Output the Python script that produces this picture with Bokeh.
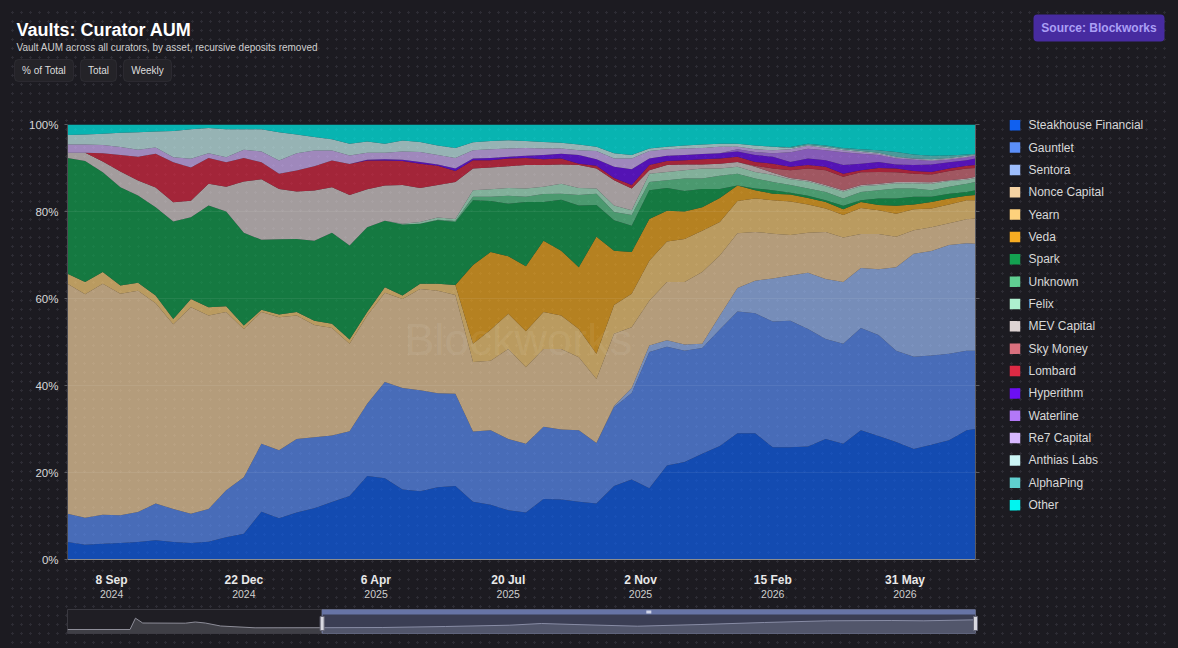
import pandas as pd
from bokeh.plotting import figure
from bokeh.models import (Range1d, FixedTicker, LinearAxis, Label, Grid,
                          ColumnDataSource, BoxAnnotation)
from bokeh.layouts import column, row
from bokeh.embed import file_html
from bokeh.resources import INLINE
from bokeh.core.properties import value

BG = "#1c1b21"
FONT = "Liberation Sans"

# ---------------- data ----------------
dates = list(pd.date_range("2024-08-04", periods=52, freq="14D")) + [pd.Timestamp("2026-07-26")]

curators = ["Steakhouse Financial", "Gauntlet", "Sentora", "Nonce Capital", "Yearn", "Veda",
            "Spark", "Unknown", "Felix", "MEV Capital", "Sky Money", "Lombard", "Hyperithm",
            "Waterline", "Re7 Capital", "Anthias Labs", "AlphaPing", "Other"]
colors = ["#1060f0", "#5b8ff9", "#9dbdfb", "#f5d3a3", "#fdd17c", "#f7ac22", "#13a150", "#60ce91",
          "#aef0cf", "#ddd3d3", "#d9707e", "#dd2a44", "#6c0ff4", "#b278f7", "#d7b7ff", "#cbf4f4",
          "#5fcfcf", "#00f5f0"]

steakhouse = [4.0, 3.4, 3.6, 3.8, 4.0, 4.4, 4.0, 3.8, 4.1, 5.1, 5.9, 11.0, 9.5, 10.8, 11.8, 13.2, 14.6, 19.2,
              18.7, 16.1, 15.7, 16.6, 16.9, 13.3, 12.6, 11.3, 10.8, 13.9, 13.8, 13.3, 12.9, 16.9, 18.4, 16.4,
              21.6, 22.4, 24.3, 26.1, 29.0, 29.0, 25.8, 25.8, 26.0, 27.7, 26.6, 29.7, 28.4, 27.0, 25.4, 26.4,
              27.4, 29.7, 30.0]
gauntlet = [6.5, 6.2, 6.7, 6.4, 6.9, 8.5, 7.6, 6.7, 7.5, 10.8, 13.0, 15.6, 15.6, 16.9, 16.3, 15.3, 14.9, 16.6,
            22.1, 23.3, 23.2, 21.6, 21.2, 16.1, 17.1, 16.4, 15.8, 16.6, 16.1, 16.4, 13.9, 18.1, 19.9, 31.3,
            27.3, 25.6, 24.3, 26.8, 28.0, 27.6, 28.9, 29.1, 27.0, 23.0, 23.0, 23.5, 23.2, 21.0, 21.2, 20.5,
            19.9, 18.3, 18.0]
sentora = [0] * 31 + [0.3, 1.1, 1.5, 1.5, 1.4, 1.0, 3.2, 5.4, 7.5, 9.9, 10.4, 12.9, 13.8, 14.2, 13.8, 15.1,
                      19.2, 23.7, 24.0, 25.0, 24.7, 24.6]
nonce = [52.9, 51.4, 53.1, 50.9, 50.9, 46.0, 42.5, 47.5, 44.5, 41.0, 34.1, 30.3, 30.6, 28.4, 25.8, 24.7, 20.1,
         20.3, 20.5, 20.5, 23.3, 23.6, 22.7, 16.0, 16.0, 20.7, 17.6, 17.9, 18.5, 16.8, 14.7, 16.6, 14.0, 10.3,
         13.4, 14.4, 16.5, 13.8, 12.6, 11.2, 10.3, 9.3, 9.2, 10.8, 10.2, 7.8, 8.1, 7.0, 5.4, 5.5, 5.0, 5.5, 5.8]
yearn = [2.3, 2.8, 2.7, 1.9, 1.8, 1.8, 1.2, 1.9, 1.9, 1.3, 0.8, 0.5, 0.6, 0.8, 1.0, 1.0, 1.0, 0.8, 1.3, 0.8,
         1.2, 1.6, 2.3, 4.2, 7.1, 8.1, 8.3, 8.5, 7.7, 6.5, 5.8, 6.6, 7.7, 9.2, 9.3, 9.9, 9.5, 7.7, 7.4, 7.7,
         7.7, 7.7, 6.5, 5.4, 5.2, 6.0, 5.5, 5.3, 4.8, 4.3, 4.3, 4.4, 4.2]
veda = [0] * 23 + [18.1, 17.9, 13.2, 14.9, 16.4, 14.9, 14.2, 26.9, 12.5, 9.6, 9.6, 7.1, 6.3, 5.4, 5.5, 3.6,
                   1.9, 1.5, 1.6, 1.5, 1.5, 1.3, 1.4, 1.2, 1.8, 1.1, 1.5, 1.4, 1.0, 1.2]
spark = [26.6, 27.8, 22.9, 22.6, 20.1, 20.3, 22.4, 18.8, 23.4, 21.8, 21.3, 16.1, 17.3, 16.8, 18.4, 20.9, 21.6,
         19.5, 15.3, 16.3, 13.8, 14.6, 14.5, 14.9, 11.7, 12.1, 14.8, 8.9, 11.7, 14.2, 7.3, 7.0, 6.0, 6.6, 5.2,
         4.7, 4.2, 2.1, 0.0, 0.4, 0.8, 0.4, 0.5, 0.4, 0.8, 0.4, 1.5, 1.7, 1.8, 1.2, 1.1, 0.9, 1.1]
unknown = [0] * 21 + [0.1, 0.2, 0.8, 1.0, 1.8, 1.2, 1.8, 1.4, 2.4, 2.6, 1.9, 2.5, 1.9, 1.8, 2.9, 2.4, 3.0, 2.7,
                      2.3, 1.9, 1.8, 1.7, 1.9, 1.7, 1.9, 1.9, 2.3, 1.9, 1.5, 1.6, 1.9, 1.9]
felix = [0] * 19 + [0.2, 0.4, 0.5, 0.5, 1.5, 1.7, 1.8, 1.9, 1.7, 2.3, 1.6, 1.2, 1.5, 1.1, 1.9, 1.9, 1.9, 2.3,
                    1.7, 1.6, 1.5, 1.6, 1.3, 1.6, 1.3, 1.6, 1.3, 1.2, 1.2, 1.2, 1.5, 1.3, 0.9, 0.9]
mev_capital = [1.2, 1.9, 2.5, 3.6, 3.4, 4.5, 4.4, 3.8, 5.0, 5.7, 11.8, 13.9, 11.6, 10.9, 11.5, 10.5, 11.6, 8.7,
               8.1, 8.9, 7.8, 7.5, 8.5, 5.0, 5.0, 5.0, 5.4, 5.0, 4.4, 5.3, 4.6, 5.8, 5.0, 0.8, 1.6, 1.3, 0.9,
               1.1, 1.1, 1.2, 0.5, 0.3, 0.3, 0.3, 0.3, 0.3, 0.3, 0.3, 0.3, 0.3, 0.2, 0.3, 0.3]
sky_money = [0] * 39 + [0.2, 1.0, 1.8, 2.7, 3.4, 3.1, 2.9, 2.7, 2.2, 1.9, 1.8, 2.1, 2.3, 2.0]
lombard = [0.0, 0.0, 1.9, 3.8, 5.5, 7.8, 9.2, 7.6, 5.9, 5.6, 5.4, 3.9, 3.5, 4.8, 5.6, 6.1, 7.1, 6.6, 5.7, 5.5,
           5.6, 4.4, 2.5, 1.9, 1.7, 1.8, 1.6, 1.3, 1.4, 0.3, 0.6, 0.5, 0.8, 1.2, 0.9, 1.0, 1.2, 1.2, 1.2, 0.9,
           1.1, 0.8, 0.8, 0.8, 0.7, 0.5, 0.9, 0.9, 0.6, 0.6, 0.6, 0.6, 0.7]
hyperithm = [0] * 17 + [0.2, 0.3, 0.3, 0.4, 0.3, 0.6, 0.4, 0.5, 0.4, 0.5, 1.0, 1.1, 2.0, 1.5, 2.6, 3.6, 1.5,
                        1.2, 1.2, 1.2, 1.2, 1.2, 1.6, 1.6, 1.1, 1.5, 1.5, 2.0, 1.5, 1.4, 0.9, 1.4, 1.7, 1.4,
                        1.3, 1.5]
waterline = [0] * 38 + [0.5, 0.7, 0.8, 2.2, 2.2, 2.3, 2.9, 2.3, 1.6, 1.4, 1.2, 0.8, 0.6, 0.6, 0.6]
re7_capital = [1.9, 1.9, 1.9, 1.8, 1.6, 1.4, 1.2, 2.0, 1.1, 1.2, 1.9, 2.5, 3.0, 4.0, 3.6, 2.3, 2.0, 1.6, 1.5,
               1.9, 2.3, 2.2, 2.4, 1.9, 2.0, 1.9, 1.8, 1.5, 1.2, 1.1, 1.9, 1.9, 2.5, 1.7, 1.5, 1.5, 1.4, 1.5,
               0.6, 0.6, 0.7, 0.7, 0.7, 0.5, 0.5, 0.4, 0.3, 0.2, 0.2, 0.2, 0.2, 0.2, 0.2]
anthias_labs = [2.2, 2.3, 2.6, 3.3, 4.0, 3.7, 6.0, 6.8, 5.8, 6.4, 4.7, 5.1, 6.5, 4.3, 3.1, 2.6, 2.7, 2.6, 2.1,
                2.5, 2.3, 2.2, 2.3, 1.8, 1.9, 1.9, 1.6, 1.5, 1.3, 1.3, 1.0, 1.2, 0.8, 0.6, 0.6, 0.7, 0.8, 0.7,
                0.7, 0.9, 0.8, 0.3, 0.2, 0.3, 0.2, 0.2, 0.2, 0.2, 0.1, 0.2, 0.2, 0.2, 0.1]
alphaping = [0] * 41 + [0.2, 0.3, 0.3, 0.3, 0.4, 0.6, 1.1, 0.9, 0.8, 0.6, 0.3, 0.2]
other = [2.4, 2.3, 2.1, 1.9, 1.8, 1.6, 1.5, 1.1, 0.8, 1.1, 1.1, 1.1, 1.8, 2.3, 2.9, 3.4, 4.4, 3.9, 4.4, 3.7,
         4.0, 4.8, 5.4, 4.1, 3.8, 3.6, 3.8, 4.0, 4.2, 4.6, 5.1, 6.6, 7.0, 5.5, 5.1, 4.8, 4.6, 4.4, 4.4, 4.8,
         5.1, 5.2, 4.4, 4.8, 5.4, 5.7, 5.9, 6.3, 6.9, 7.2, 7.1, 6.9, 6.7]

series = [steakhouse, gauntlet, sentora, nonce, yearn, veda, spark, unknown, felix, mev_capital,
          sky_money, lombard, hyperithm, waterline, re7_capital, anthias_labs, alphaping, other]

tick_dates = ["2024-09-08", "2024-12-22", "2025-04-06", "2025-07-20", "2025-11-02", "2026-02-15", "2026-05-31"]
tick_days = ["8 Sep", "22 Dec", "6 Apr", "20 Jul", "2 Nov", "15 Feb", "31 May"]
tick_years = ["2024", "2024", "2025", "2025", "2025", "2026", "2026"]
y_ticks = [0, 20, 40, 60, 80, 100]
y_tick_labels = ["0%", "20%", "40%", "60%", "80%", "100%"]

# navigator (total AUM, arbitrary units)
nav_dates = ["2023-10-28", "2024-01-05", "2024-01-11", "2024-01-19", "2024-03-06", "2024-03-17",
             "2024-03-28", "2024-04-14", "2024-05-22", "2024-08-04", "2024-10-10", "2024-12-18",
             "2025-02-27", "2025-04-03", "2025-05-09", "2025-07-18", "2025-09-26", "2025-12-05",
             "2026-02-13", "2026-04-24", "2026-05-30", "2026-07-26"]
nav_total_aum = [4, 4, 15.3, 10.5, 10.3, 11.5, 10.5, 7.5, 5.7, 5.8, 6, 7, 8.3, 10, 9, 7.3, 9, 11, 12.7, 13,
                 12.7, 13.7]


def ms(d):
    return float(pd.Timestamp(d).value // 10**6)


box_kw = {"border_radius": 4} if "border_radius" in BoxAnnotation.properties() else {}

# ---------------- header ----------------
hdr = figure(width=1162, height=92, x_range=Range1d(0, 1162), y_range=Range1d(92, 0),
             toolbar_location=None, output_backend="svg", min_border=0,
             x_axis_type=None, y_axis_type=None, outline_line_color=None,
             background_fill_alpha=0, border_fill_alpha=0)
hdr.grid.visible = False
hdr.text(x=[8], y=[21], text=["Vaults: Curator AUM"], text_font=value(FONT), text_font_style="bold",
         text_font_size="18px", text_color="#ffffff", text_baseline="alphabetic")
hdr.text(x=[8], y=[38.5], text=["Vault AUM across all curators, by asset, recursive deposits removed"],
         text_font=value(FONT), text_font_size="10px", text_color="#cfcfcf", text_baseline="alphabetic")
for (l, r, lab) in [(6, 65, "% of Total"), (72, 108, "Total"), (115, 163, "Weekly")]:
    hdr.add_layout(BoxAnnotation(left=l, right=r, top=51, bottom=73, fill_color="#242328", fill_alpha=1,
                                 line_color="#46454c", line_width=1, level="underlay", **box_kw))
    hdr.text(x=[(l + r) / 2], y=[62], text=[lab], text_font=value(FONT), text_font_size="10px",
             text_color="#dddddd", text_align="center", text_baseline="middle")
hdr.add_layout(BoxAnnotation(left=1025, right=1156, top=6, bottom=33, fill_color="#472ba0", fill_alpha=1,
                             line_color=None, level="underlay", **box_kw))
hdr.text(x=[1090.5], y=[19.5], text=["Source: Blockworks"], text_font=value(FONT), text_font_style="bold",
         text_font_size="12px", text_color="#ab9ff5", text_align="center", text_baseline="middle")

# ---------------- main chart ----------------
x0, x1 = ms(dates[0]), ms(dates[-1])
p = figure(width=977, height=505, x_range=Range1d(x0, x1), y_range=Range1d(0, 100),
           x_axis_type=None, y_axis_type=None, toolbar_location=None, output_backend="svg",
           min_border_left=59, min_border_right=10, min_border_top=24, min_border_bottom=46,
           background_fill_alpha=0, border_fill_alpha=0, outline_line_color=None)

keys = ["s%d" % i for i in range(len(series))]
data = {"date": [ms(d) for d in dates]}
for k, s in zip(keys, series):
    data[k] = s
src = ColumnDataSource(data)
p.varea_stack(stackers=keys, x="date", color=colors, fill_alpha=0.7, source=src)

p.add_layout(Grid(dimension=1, ticker=FixedTicker(ticks=[20, 40, 60, 80]), grid_line_color="#ffffff",
                  grid_line_alpha=0.07, level="overlay"))

tick_ms = [ms(d) for d in tick_dates]
ax1 = LinearAxis(ticker=FixedTicker(ticks=tick_ms), major_label_overrides=dict(zip(tick_ms, tick_days)),
                 major_tick_out=0, major_tick_in=0, minor_tick_out=0, minor_tick_in=0,
                 axis_line_color="#8c8c8c", axis_line_width=1.2,
                 major_label_text_color="#e8e8e8", major_label_text_font=FONT,
                 major_label_text_font_style="bold", major_label_text_font_size="12px",
                 major_label_standoff=13)
p.add_layout(ax1, "below")
ax2 = LinearAxis(ticker=FixedTicker(ticks=tick_ms), major_label_overrides=dict(zip(tick_ms, tick_years)),
                 major_tick_out=0, major_tick_in=0, minor_tick_out=0, minor_tick_in=0,
                 axis_line_color=None, major_label_text_color="#cfcfcf", major_label_text_font=FONT,
                 major_label_text_font_size="10.5px", major_label_standoff=0)
p.add_layout(ax2, "below")

ay = LinearAxis(ticker=FixedTicker(ticks=y_ticks), major_label_overrides=dict(zip(y_ticks, y_tick_labels)),
                major_tick_out=3, major_tick_in=0, minor_tick_out=0, minor_tick_in=0,
                major_tick_line_color="#5a5a60", axis_line_color="#4a4a50",
                major_label_text_color="#d8d8d8", major_label_text_font=FONT,
                major_label_text_font_size="11.5px", major_label_standoff=6)
p.add_layout(ay, "left")
ar = LinearAxis(ticker=FixedTicker(ticks=y_ticks), major_label_overrides={t: "" for t in y_ticks},
                major_tick_out=4, major_tick_in=0, minor_tick_out=0, minor_tick_in=0,
                major_tick_line_color="#5a5a60", axis_line_color="#5a5a60", major_label_text_font_size="1px",
                major_label_standoff=0)
p.add_layout(ar, "right")

p.add_layout(Label(x=ms("2025-07-28"), y=50.5, text="Blockworks", text_font=FONT, text_font_size="45px",
                   text_color="#ffffff", text_alpha=0.08, text_align="center", text_baseline="middle"))

# ---------------- navigator ----------------
n0, n1 = ms(nav_dates[0]), ms(nav_dates[-1])
nav = figure(width=977, height=35, x_range=Range1d(n0, n1), y_range=Range1d(0, 24),
             x_axis_type=None, y_axis_type=None, toolbar_location=None, output_backend="svg",
             min_border_left=59, min_border_right=8, min_border_top=4, min_border_bottom=7,
             background_fill_color="#1f1e24", background_fill_alpha=1, border_fill_alpha=0,
             outline_line_color="#3a3940")
nav.grid.visible = False
nav_x = [ms(d) for d in nav_dates]
nav.varea(x=nav_x, y1=[0] * len(nav_x), y2=nav_total_aum, fill_color="#55555d", fill_alpha=0.6)
nav.line(x=nav_x, y=nav_total_aum, line_color="#8d8d98", line_width=1)
nav.add_layout(BoxAnnotation(left=x0, right=n1, fill_color="#7d8cc4", fill_alpha=0.3,
                             line_color="#8d98c4", line_alpha=0.8))
nav.add_layout(BoxAnnotation(left=x0, right=n1, bottom=19, top=24, fill_color="#6774a6", fill_alpha=1,
                             line_color=None))
nav.rect(x=[(x0 + n1) / 2], y=[21.5], width=5, height=3, width_units="screen", height_units="screen",
         fill_color="#cfd3e6", line_color=None, level="overlay")
nav.rect(x=[x0, n1], y=[10, 10], width=4, height=14, width_units="screen", height_units="screen",
         fill_color="#d8d8e0", line_color="#6a6a7a", level="overlay")

# ---------------- legend ----------------
leg = figure(width=185, height=540, x_range=Range1d(0, 185), y_range=Range1d(540, 0),
             x_axis_type=None, y_axis_type=None, toolbar_location=None, output_backend="svg",
             min_border=0, outline_line_color=None, background_fill_alpha=0, border_fill_alpha=0)
leg.grid.visible = False
ys = [24.7 + i * 22.35 for i in range(len(curators))]
leg.rect(x=[29.5] * len(curators), y=ys, width=10.5, height=10.5, fill_color=colors, line_color=None)
leg.text(x=[43] * len(curators), y=ys, text=curators, text_font=value(FONT), text_font_size="12px",
         text_color="#d8d8d8", text_baseline="middle")

layout = column(hdr, row(column(p, nav), leg))

html = file_html(layout, INLINE, title="Vaults: Curator AUM")
css = ("<style>html,body{margin:0;padding:0;} body{margin:8px !important;background-color:#1c1b21;"
       "background-image:radial-gradient(#2d2c34 1px, transparent 1.2px);"
       "background-size:9px 9px;} html{background-color:#1c1b21;}</style></head>")
html = html.replace("</head>", css, 1)
open("out.html", "w").write(html)
